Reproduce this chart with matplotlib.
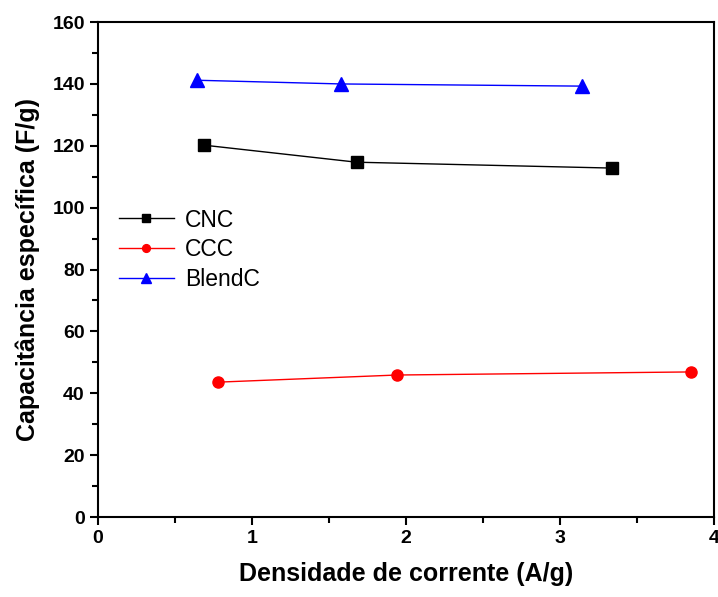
import matplotlib
matplotlib.use("Agg")
import matplotlib.pyplot as plt
from matplotlib.ticker import MultipleLocator

plt.rcParams['font.family'] = ['Liberation Sans', 'DejaVu Sans']

# data
cnc_x = [0.69, 1.68, 3.34]
cnc_y = [120.2, 114.7, 112.8]
ccc_x = [0.78, 1.94, 3.85]
ccc_y = [43.6, 45.9, 46.9]
blend_x = [0.64, 1.58, 3.14]
blend_y = [141.2, 140.0, 139.3]

fig = plt.figure(figsize=(7.18, 5.97), dpi=100)
ax = fig.add_axes([0.1365, 0.134, 0.858, 0.829])

ax.plot(cnc_x, cnc_y, color='black', lw=1, marker='s', ms=8, label='CNC')
ax.plot(ccc_x, ccc_y, color='red', lw=1, marker='o', ms=8, label='CCC')
ax.plot(blend_x, blend_y, color='blue', lw=1, marker='^', ms=10, label='BlendC')

ax.set_xlim(0, 4)
ax.set_ylim(0, 160)
ax.xaxis.set_major_locator(MultipleLocator(1))
ax.xaxis.set_minor_locator(MultipleLocator(0.5))
ax.yaxis.set_major_locator(MultipleLocator(20))
ax.yaxis.set_minor_locator(MultipleLocator(10))
ax.tick_params(which='major', direction='out', length=6, width=1.5, labelsize=14)
ax.tick_params(which='minor', direction='out', length=4, width=1.5)
for lab in ax.get_xticklabels() + ax.get_yticklabels():
    lab.set_fontweight('bold')
for s in ax.spines.values():
    s.set_linewidth(1.5)

ax.set_xlabel('Densidade de corrente (A/g)', fontsize=18, fontweight='bold', labelpad=11)
ax.set_ylabel('Capacitância específica (F/g)', fontsize=18, fontweight='bold', labelpad=9)

ax.legend(loc='upper left', bbox_to_anchor=(0.0, 0.665), frameon=False, fontsize=16.5,
          handlelength=2.4, handletextpad=0.5, labelspacing=0.3, borderaxespad=0.5,
          markerscale=0.7)

fig.savefig('out.png', dpi=100)
